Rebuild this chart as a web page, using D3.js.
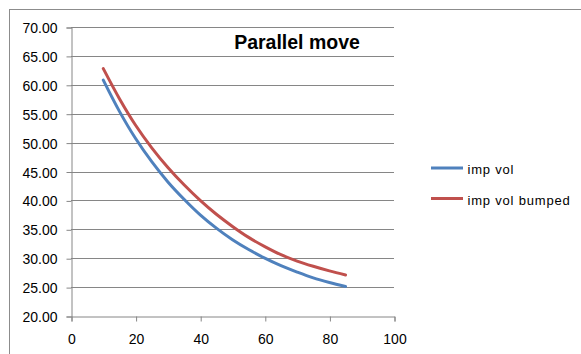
<!DOCTYPE html>
<html>
<head>
<meta charset="utf-8">
<script src="https://cdn.jsdelivr.net/npm/d3@7"></script>
<style>
  html, body { margin: 0; padding: 0; background: #fff; }
  svg { display: block; }
  text { font-family: "Liberation Sans", Arial, sans-serif; fill: #000; }
</style>
</head>
<body>
<svg id="chart" width="581" height="354"></svg>
<script>
// Strikes and implied volatilities
const strikes = [10, 15, 20, 25, 30, 35, 40, 45, 50, 55, 60, 65, 70, 75, 80, 85];
const impVol = [60.8, 55.4, 50.7, 46.7, 43.2, 40.2, 37.5, 35.2, 33.2, 31.5, 30.0, 28.7, 27.6, 26.6, 25.8, 25.1];
const impVolBumped = [62.8, 57.6, 53.0, 49.1, 45.7, 42.7, 40.0, 37.6, 35.5, 33.6, 32.0, 30.6, 29.5, 28.6, 27.8, 27.1];

const xTicks = [0, 20, 40, 60, 80, 100];
const yTicks = [20, 25, 30, 35, 40, 45, 50, 55, 60, 65, 70];

const seriesNames = ["imp vol", "imp vol bumped"];
const seriesColors = ["#4F81BD", "#C0504D"];
const chartTitle = "Parallel move";

const svg = d3.select("#chart");

// Chart area frame
svg.append("rect")
  .attr("x", 9.5).attr("y", 9.5)
  .attr("width", 640).attr("height", 400)
  .attr("fill", "#fff")
  .attr("stroke", "#8c8c8c").attr("stroke-width", 1);

const x = d3.scaleLinear().domain([0, 100]).range([71, 394]);
const y = d3.scaleLinear().domain([20, 70]).range([316, 27]);

// Horizontal gridlines
svg.append("g")
  .selectAll("line")
  .data(yTicks.filter(v => v > 20))
  .join("line")
  .attr("x1", x(0)).attr("x2", x(100))
  .attr("y1", d => Math.round(y(d)) + 0.5)
  .attr("y2", d => Math.round(y(d)) + 0.5)
  .attr("stroke", "#868686").attr("stroke-width", 1);

// Y axis
const yAxis = svg.append("g")
  .attr("transform", `translate(${x(0) + 0.5},0.5)`)
  .call(d3.axisLeft(y).tickValues(yTicks).tickFormat(d3.format(".2f")).tickSize(5).tickPadding(9));
yAxis.selectAll("text").attr("font-size", 14).attr("dy", "0.36em");

// X axis
const xAxis = svg.append("g")
  .attr("transform", `translate(0.5,${y(20) + 0.5})`)
  .call(d3.axisBottom(x).tickValues(xTicks).tickFormat(d3.format("d")).tickSize(5).tickPadding(13));
xAxis.selectAll("text").attr("font-size", 14);

[yAxis, xAxis].forEach(a => {
  a.select(".domain").attr("stroke", "#868686");
  a.selectAll(".tick line").attr("stroke", "#868686");
  a.attr("font-family", null);
});

// Series, drawn as smoothed lines
const line = d3.line()
  .x((d, i) => x(strikes[i]))
  .y(d => y(d))
  .curve(d3.curveCatmullRom.alpha(0.5));

[impVol, impVolBumped].forEach((vals, k) => {
  svg.append("path")
    .datum(vals)
    .attr("d", line)
    .attr("fill", "none")
    .attr("stroke", seriesColors[k])
    .attr("stroke-width", 3)
    .attr("stroke-linecap", "round")
    .attr("stroke-linejoin", "round");
});

// Title
svg.append("text")
  .attr("x", 297).attr("y", 49)
  .attr("text-anchor", "middle")
  .attr("font-size", 19.5)
  .attr("font-weight", "bold")
  .text(chartTitle);

// Legend
const legend = svg.append("g");
seriesNames.forEach((name, k) => {
  const ly = 168 + k * 30.5;
  legend.append("line")
    .attr("x1", 431).attr("x2", 463)
    .attr("y1", ly).attr("y2", ly)
    .attr("stroke", seriesColors[k])
    .attr("stroke-width", 3);
  legend.append("text")
    .attr("x", 467.5).attr("y", ly + 6)
    .attr("font-size", 13)
    .attr("letter-spacing", "0.8px")
    .text(name);
});
</script>
</body>
</html>
